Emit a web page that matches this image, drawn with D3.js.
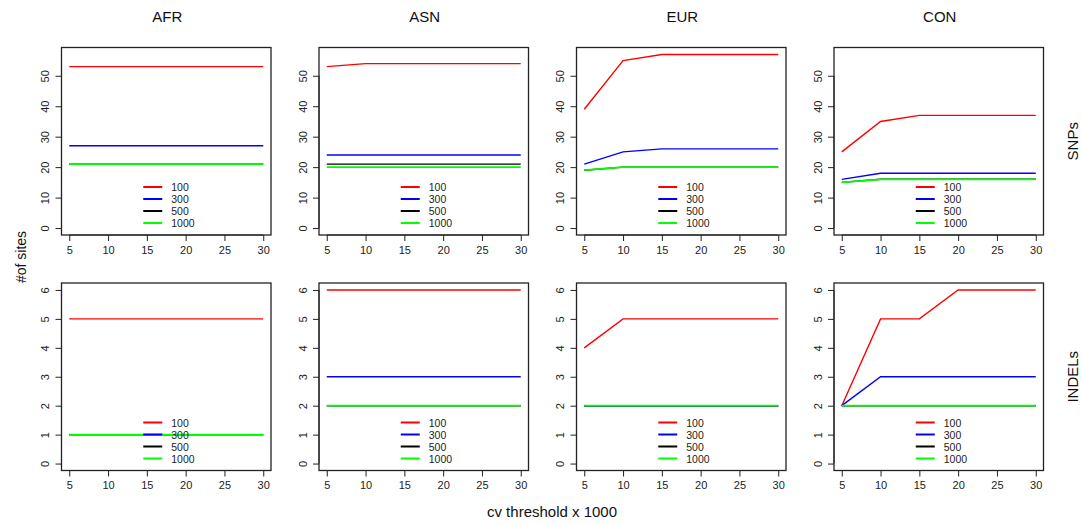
<!DOCTYPE html>
<html>
<head>
<meta charset="utf-8">
<script src="https://cdn.jsdelivr.net/npm/d3@7"></script>
<style>
  body { margin: 0; background: #fff; }
  svg { font-family: "Liberation Sans", Arial, sans-serif; }
  .tick text { fill: #222; }
</style>
</head>
<body>
<svg id="chart" width="1082" height="525"></svg>
<script>
// DATA
const populations = ["AFR", "ASN", "EUR", "CON"];
const variantTypes = ["SNPs", "INDELs"];
const cvThresholds = [5, 10, 15, 20, 25, 30];
const seriesNames = ["100", "300", "500", "1000"];
const seriesColors = ["#ff0000", "#0000ff", "#000000", "#00ff00"];

const snpYTicks = [0, 10, 20, 30, 40, 50];
const indelYTicks = [0, 1, 2, 3, 4, 5, 6];
const xTicks = [5, 10, 15, 20, 25, 30];

// SNPs, one array per population, series in order 100, 300, 500, 1000
const snpAFR = [
  [53, 53, 53, 53, 53, 53],
  [27, 27, 27, 27, 27, 27],
  [21, 21, 21, 21, 21, 21],
  [21, 21, 21, 21, 21, 21]
];
const snpASN = [
  [53, 54, 54, 54, 54, 54],
  [24, 24, 24, 24, 24, 24],
  [21, 21, 21, 21, 21, 21],
  [20, 20, 20, 20, 20, 20]
];
const snpEUR = [
  [39, 55, 57, 57, 57, 57],
  [21, 25, 26, 26, 26, 26],
  [19, 20, 20, 20, 20, 20],
  [19, 20, 20, 20, 20, 20]
];
const snpCON = [
  [25, 35, 37, 37, 37, 37],
  [16, 18, 18, 18, 18, 18],
  [15, 16, 16, 16, 16, 16],
  [15, 16, 16, 16, 16, 16]
];

// INDELs
const indelAFR = [
  [5, 5, 5, 5, 5, 5],
  [1, 1, 1, 1, 1, 1],
  [1, 1, 1, 1, 1, 1],
  [1, 1, 1, 1, 1, 1]
];
const indelASN = [
  [6, 6, 6, 6, 6, 6],
  [3, 3, 3, 3, 3, 3],
  [2, 2, 2, 2, 2, 2],
  [2, 2, 2, 2, 2, 2]
];
const indelEUR = [
  [4, 5, 5, 5, 5, 5],
  [2, 2, 2, 2, 2, 2],
  [2, 2, 2, 2, 2, 2],
  [2, 2, 2, 2, 2, 2]
];
const indelCON = [
  [2, 5, 5, 6, 6, 6],
  [2, 3, 3, 3, 3, 3],
  [2, 2, 2, 2, 2, 2],
  [2, 2, 2, 2, 2, 2]
];

const panelData = [
  [snpAFR, snpASN, snpEUR, snpCON],
  [indelAFR, indelASN, indelEUR, indelCON]
];
const yLimits = [[0, 57], [0, 6]];
const yTickSets = [snpYTicks, indelYTicks];

// SETUP: panel layout (R-style 2x4 grid)
const panelLeft = 61.5, panelStep = 257.5, panelW = 209.5;
const rowTops = [47.5, 283], panelH = 187.5;

const svg = d3.select("#chart");

// R pads axis ranges by 4% on each side
function padded(lim) {
  const d = (lim[1] - lim[0]) * 0.04;
  return [lim[0] - d, lim[1] + d];
}

variantTypes.forEach((vt, r) => {
  populations.forEach((pop, c) => {
    const x0 = panelLeft + c * panelStep;
    const y0 = rowTops[r];
    const g = svg.append("g").attr("transform", `translate(${x0},${y0})`);

    const x = d3.scaleLinear()
      .domain(padded(d3.extent(cvThresholds)))
      .range([0, panelW]);
    const y = d3.scaleLinear()
      .domain(padded(yLimits[r]))
      .range([panelH, 0]);

    const line = d3.line()
      .x((d, i) => x(cvThresholds[i]))
      .y(d => y(d));

    // lines, drawn in order so 1000 sits on top
    // (last one a touch wider so hidden lines don't fringe it)
    panelData[r][c].forEach((vals, s) => {
      g.append("path")
        .datum(vals)
        .attr("d", line)
        .attr("fill", "none")
        .attr("stroke", seriesColors[s])
        .attr("stroke-width", s === 3 ? 1.8 : 1.4);
    });

    // axes
    const xAxis = g.append("g")
      .attr("transform", `translate(0,${panelH})`)
      .call(d3.axisBottom(x).tickValues(xTicks).tickSize(6).tickPadding(5)
        .tickSizeOuter(0));
    xAxis.select(".domain")
      .attr("d", `M${x(xTicks[0])},0H${x(xTicks[xTicks.length - 1])}`);
    xAxis.selectAll("text").attr("font-size", 11).attr("font-family", null);

    const yAxis = g.append("g")
      .call(d3.axisLeft(y).tickValues(yTickSets[r]).tickFormat(d3.format("d"))
        .tickSize(6).tickSizeOuter(0));
    yAxis.select(".domain")
      .attr("d", `M0,${y(yTickSets[r][0])}V${y(yTickSets[r][yTickSets[r].length - 1])}`);
    yAxis.selectAll("text")
      .attr("font-size", 11)
      .attr("font-family", null)
      .attr("text-anchor", "middle")
      .attr("x", null)
      .attr("dy", null)
      .attr("transform", "translate(-16.5,0) rotate(-90)")
      .attr("dominant-baseline", "central");
    g.selectAll(".tick line, .domain").attr("stroke", "#222");

    // plot box
    g.append("rect")
      .attr("width", panelW)
      .attr("height", panelH)
      .attr("fill", "none")
      .attr("stroke", "#222")
      .attr("stroke-width", 1.3);

    // legend at bottom, no box
    const lg = g.append("g")
      .attr("transform", `translate(${panelW / 2},${panelH})`);
    seriesNames.forEach((name, s) => {
      const ly = -12 * (seriesNames.length - s);
      lg.append("line")
        .attr("x1", -23).attr("x2", -4)
        .attr("y1", ly).attr("y2", ly)
        .attr("stroke", seriesColors[s])
        .attr("stroke-width", 2);
      lg.append("text")
        .attr("x", 5).attr("y", ly)
        .attr("dominant-baseline", "central")
        .attr("font-size", 10.5)
        .attr("fill", "#222")
        .text(name);
    });

    // column titles
    if (r === 0) {
      svg.append("text")
        .attr("x", x0 + panelW / 2 + 1)
        .attr("y", 16)
        .attr("text-anchor", "middle")
        .attr("dominant-baseline", "central")
        .attr("font-size", 15)
        .attr("fill", "#111")
        .text(pop);
    }
  });

  // row labels on the right
  svg.append("text")
    .attr("transform", `translate(1072,${rowTops[r] + panelH / 2}) rotate(-90)`)
    .attr("text-anchor", "middle")
    .attr("dominant-baseline", "central")
    .attr("font-size", 15)
    .attr("fill", "#111")
    .text(vt);
});

// shared axis labels
svg.append("text")
  .attr("x", 552)
  .attr("y", 511)
  .attr("text-anchor", "middle")
  .attr("dominant-baseline", "central")
  .attr("font-size", 15)
  .attr("fill", "#111")
  .text("cv threshold x 1000");

svg.append("text")
  .attr("transform", "translate(21,257) rotate(-90)")
  .attr("text-anchor", "middle")
  .attr("dominant-baseline", "central")
  .attr("font-size", 14)
  .attr("fill", "#111")
  .text("#of sites");
</script>
</body>
</html>
